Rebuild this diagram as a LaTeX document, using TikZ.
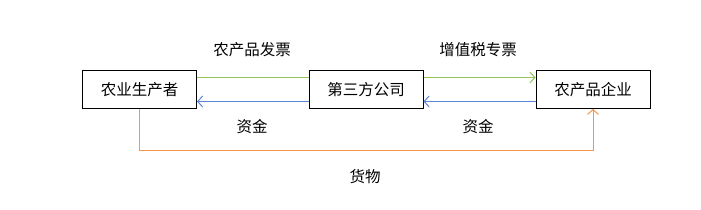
\documentclass[tikz,border=0pt]{standalone}
\usepackage{fontspec}
\setmainfont{Noto Sans CJK SC}
\usetikzlibrary{arrows.meta,positioning}
\definecolor{FlowGreen}{HTML}{92C45A}
\definecolor{FlowBlue}{HTML}{5B86D6}
\definecolor{FlowOrange}{HTML}{F79646}

\tikzset{
  party/.style={draw=black,line width=1pt,minimum width=114pt,minimum height=37.6pt,
                inner sep=0pt,font=\fontsize{15.5pt}{18pt}\selectfont},
  flowlabel/.style={font=\fontsize{15.5pt}{18pt}\selectfont},
  flow/.style={line width=1pt,-{Straight Barb[length=5pt,width=11pt]}}
}

\begin{document}
\begin{tikzpicture}[x=1pt,y=1pt]
        \useasboundingbox (0,0) rectangle (701,209);
        % the three parties
        \node[party] (farmer) at (139.5,119.5) {农业生产者};
        \node[party] (company) at (366,119.5) {第三方公司};
        \node[party] (enterprise) at (593,119.5) {农产品企业};
        % invoices
        \draw[FlowGreen,line width=1pt]
          ([yshift=12pt]farmer.east) -- ([yshift=12pt]company.west);
        \draw[flow,FlowGreen]
          ([yshift=12pt]company.east) -- ([yshift=12pt]enterprise.west);
        % money
        \draw[flow,FlowBlue]
          ([yshift=-12pt]company.west) -- ([yshift=-12pt]farmer.east);
        \draw[flow,FlowBlue]
          ([yshift=-12pt]enterprise.west) -- ([yshift=-12pt]company.east);
        % goods
        \draw[flow,FlowOrange]
          (farmer.south) -- ++(0,-41.7) -| (enterprise.south);
        % labels
        \node[flowlabel] (invoiceA) at (252,159) {农产品发票};
        \node[flowlabel] (invoiceB) at (478,159) {增值税专票};
        \node[flowlabel] (moneyA) at (252,82.5) {资金};
        \node[flowlabel] (moneyB) at (478,82.5) {资金};
        \node[flowlabel] (goods) at (365,32.5) {货物};
      \end{tikzpicture}
\end{document}
